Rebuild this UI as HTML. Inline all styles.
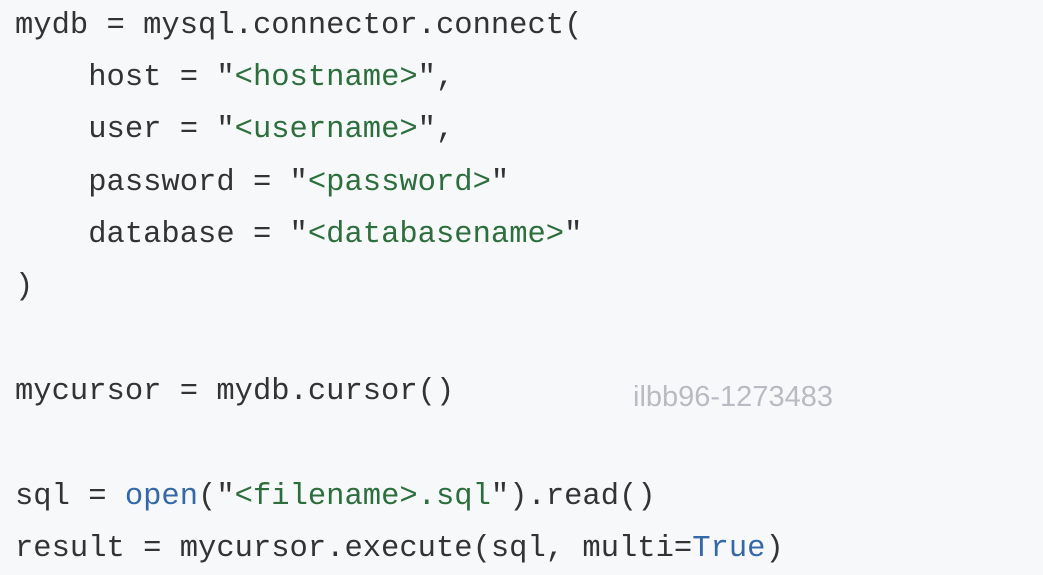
<!DOCTYPE html>
<html><head><style>
html,body{margin:0;padding:0;}
body{width:1043px;height:564px;background:#f6f8fa;overflow:hidden;position:relative;font-family:"Liberation Mono",monospace;font-size:30.5px;color:#333;}
.l{position:absolute;left:15px;height:52px;line-height:52px;white-space:pre;}
.s{color:#2d6e3d}.b{color:#3568a8}
.w{position:absolute;left:633px;top:381px;font-family:"Liberation Sans",sans-serif;font-size:29px;color:#b8bcc2;}
</style></head><body>
<div class="l" style="top:0px">mydb = mysql.connector.connect(</div>
<div class="l" style="top:52px">    host = "<span class="s">&lt;hostname&gt;</span>",</div>
<div class="l" style="top:104px">    user = "<span class="s">&lt;username&gt;</span>",</div>
<div class="l" style="top:157px">    password = "<span class="s">&lt;password&gt;</span>"</div>
<div class="l" style="top:209px">    database = "<span class="s">&lt;databasename&gt;</span>"</div>
<div class="l" style="top:261px">)</div>
<div class="l" style="top:366px">mycursor = mydb.cursor()</div>
<div class="l" style="top:471px">sql = <span class="b">open</span>("<span class="s">&lt;filename&gt;.sql</span>").read()</div>
<div class="l" style="top:523px">result = mycursor.execute(sql, multi=<span class="b">True</span>)</div>
<div class="w">ilbb96-1273483</div>
</body></html>
